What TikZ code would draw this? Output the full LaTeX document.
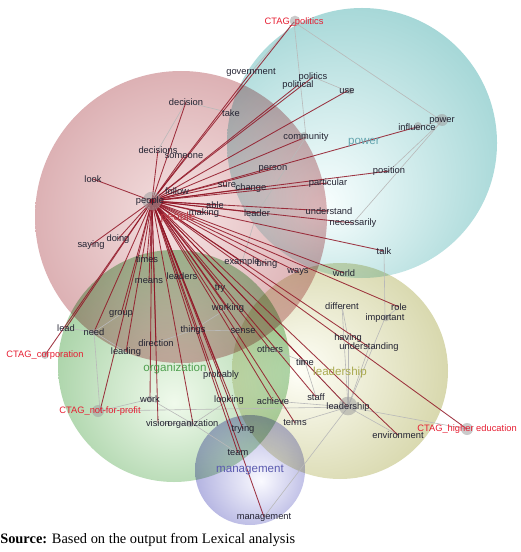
\documentclass[tikz,border=0pt]{standalone}
\usepackage{fontspec}
\setmainfont{Liberation Sans}
\newfontfamily\srcfont{Liberation Serif}
\definecolor{txt}{RGB}{35,35,50}
\definecolor{ctagred}{RGB}{230,30,50}
\definecolor{edgered}{RGB}{145,22,38}
\definecolor{redin}{RGB}{245,226,226}
\definecolor{redout}{RGB}{196,128,134}
\definecolor{cyanin}{RGB}{250,255,255}
\definecolor{cyanout}{RGB}{112,190,190}
\definecolor{grnin}{RGB}{240,250,236}
\definecolor{grnout}{RGB}{110,178,110}
\definecolor{yelin}{RGB}{255,255,248}
\definecolor{yelout}{RGB}{188,188,120}
\definecolor{purin}{RGB}{250,250,255}
\definecolor{purout}{RGB}{120,120,200}
\definecolor{lblpeople}{RGB}{190,60,70}
\definecolor{lblpower}{RGB}{100,165,175}
\definecolor{lblorg}{RGB}{80,160,80}
\definecolor{lbllead}{RGB}{170,170,80}
\definecolor{lblman}{RGB}{90,90,175}
\pgfdeclareradialshading{redball}{\pgfpoint{0bp}{0bp}}{color(0bp)=(redin); color(50bp)=(redout)}
\pgfdeclareradialshading{cyanball}{\pgfpoint{-8bp}{-12bp}}{color(0bp)=(cyanin); color(50bp)=(cyanout)}
\pgfdeclareradialshading{grnball}{\pgfpoint{0bp}{-8bp}}{color(0bp)=(grnin); color(50bp)=(grnout)}
\pgfdeclareradialshading{yelball}{\pgfpoint{-10bp}{0bp}}{color(0bp)=(yelin); color(50bp)=(yelout)}
\pgfdeclareradialshading{purball}{\pgfpoint{5bp}{-5bp}}{color(0bp)=(purin); color(50bp)=(purout)}
\pgfdeclarelayer{circ}
\pgfdeclarelayer{edge}
\pgfsetlayers{circ,edge,main}
\begin{document}
\begin{tikzpicture}[x=0.75pt,y=-0.75pt,
  w/.style={font=\fontsize{7}{8}\selectfont, text=txt, inner sep=0pt},
  ct/.style={w, text=ctagred},
  cl/.style={font=\fontsize{8.7}{10}\selectfont, inner sep=0pt},
  rl/.style={draw=edgered, line width=0.65pt, opacity=0.85},
  gl/.style={draw=gray!55, line width=0.45pt},
  gdot/.style={circle, fill=gray!75, fill opacity=0.55, inner sep=0pt, minimum size=#1}]
\useasboundingbox (0,0) rectangle (520,552);
\begin{pgfonlayer}{circ}
\shade[shading=redball, blend mode=multiply] (181,217) circle[radius=109.5pt];
\shade[shading=cyanball, blend mode=multiply] (362,143) circle[radius=101.25pt];
\shade[shading=grnball, blend mode=multiply] (174,366) circle[radius=87pt];
\shade[shading=yelball, blend mode=multiply] (340,371) circle[radius=81pt];
\shade[shading=purball, blend mode=multiply] (250,470) circle[radius=41.25pt];
\end{pgfonlayer}
% cluster labels
\node[cl, text=lblpeople] (lpeople) at (178,218) {people};
\node[cl, text=lblpower] (lpower) at (364,143) {power};
\node[cl, text=lblorg] (lorg) at (175,368) {organization};
\node[cl, text=lbllead] (llead) at (340,372) {leadership};
\node[cl, text=lblman] (lman) at (250,470) {management};
% hub
\coordinate (hub) at (152,201);
\node[gdot=14pt] (hubdot) at (hub) {};
\node[circle, fill=edgered, inner sep=0pt, minimum size=4pt] (hubcore) at (hub) {};
% dots
\node[gdot=8pt] (d1) at (295,21) {};
\node[gdot=9pt] (d2) at (442,120) {};
\node[gdot=6pt] (d3) at (418,126) {};
\node[gdot=6pt] (d4) at (304,136) {};
\node[gdot=5pt] (d5) at (350,91) {};
\node[gdot=14pt] (d6) at (348,406) {};
\node[gdot=9pt] (d7) at (98,411) {};
\node[gdot=9pt] (d8) at (467,429) {};
\node[gdot=6pt] (d9) at (45,355) {};
\node[gdot=5pt] (d10) at (150,399) {};
\node[gdot=5pt] (d11) at (190,424) {};
\node[gdot=5pt] (d12) at (302,362) {};
\node[gdot=5pt] (d13) at (94,332) {};
\node[gdot=5pt] (d14) at (386,318) {};
% word nodes
\node[ct] (ctagpol) at (294,22) {CTAG\_politics};
\node[w] (government) at (251,72) {government};
\node[w] (politics) at (313,77) {politics};
\node[w] (political) at (298,85) {political};
\node[w] (use) at (347,91) {use};
\node[w] (decision) at (186,102) {decision};
\node[w] (take) at (231,113) {take};
\node[w] (power) at (442,121) {power};
\node[w] (influence) at (417,127) {influence};
\node[w] (community) at (306,137) {community};
\node[w] (decisions) at (158,150) {decisions};
\node[w] (someone) at (184,156) {someone};
\node[w] (person) at (273,169) {person};
\node[w] (position) at (389,171) {position};
\node[w] (look) at (93,179) {look};
\node[w] (particular) at (328,183) {particular};
\node[w] (sure) at (227,185) {sure};
\node[w] (change) at (251,188) {change};
\node[w] (follow) at (177,191) {follow};
\node[w] (peoplew) at (150,201) {people};
\node[w] (able) at (215,205) {able};
\node[w] (making) at (204,213) {making};
\node[w] (leader) at (257,213) {leader};
\node[w] (understand) at (329,211) {understand};
\node[w] (necessarily) at (353,223) {necessarily};
\node[w] (saying) at (91,245) {saying};
\node[w] (doing) at (118,239) {doing};
\node[w] (talk) at (384,251) {talk};
\node[w] (times) at (147,259) {times};
\node[w] (example) at (242,262) {example};
\node[w] (bring) at (267,264) {bring};
\node[w] (ways) at (298,272) {ways};
\node[w] (world) at (344,273) {world};
\node[w] (leaders) at (182,276) {leaders};
\node[w] (means) at (149,281) {means};
\node[w] (try) at (220,288) {try};
\node[w] (different) at (342,306) {different};
\node[w] (working) at (228,308) {working};
\node[w] (role) at (399,307) {role};
\node[w] (group) at (121,314) {group};
\node[w] (important) at (385,318) {important};
\node[w] (lead) at (66,328) {lead};
\node[w] (things) at (193,330) {things};
\node[w] (sense) at (243,331) {sense};
\node[w] (need) at (94,332) {need};
\node[w] (having) at (348,338) {having};
\node[w] (direction) at (156,343) {direction};
\node[w] (understanding) at (369,347) {understanding};
\node[w] (others) at (270,349) {others};
\node[w] (leading) at (126,352) {leading};
\node[ct] (ctagcorp) at (45,355) {CTAG\_corporation};
\node[w] (time) at (305,362) {time};
\node[w] (probably) at (221,375) {probably};
\node[w] (staff) at (316,397) {staff};
\node[w] (work) at (150,399) {work};
\node[w] (looking) at (229,400) {looking};
\node[w] (achieve) at (273,401) {achieve};
\node[w] (leadershipw) at (348,407) {leadership};
\node[ct] (ctagnfp) at (100,411) {CTAG\_not-for-profit};
\node[w] (vision) at (158,423) {vision};
\node[w] (organizationw) at (193,424) {organization};
\node[w] (terms) at (295,423) {terms};
\node[w] (trying) at (243,429) {trying};
\node[ct] (ctaghe) at (467,429) {CTAG\_higher education};
\node[w] (environment) at (398,435) {environment};
\node[w] (team) at (238,453) {team};
\node[w] (managementw) at (264,517) {management};
\node[anchor=west, inner sep=0pt, font=\srcfont\fontsize{10.8}{12}\selectfont] (src) at (0,540) {\textbf{Source:} Based on the output from Lexical analysis};
\begin{pgfonlayer}{edge}
\foreach \a/\b in {ctagpol/community, ctagpol/power, ctagpol/government, politics/use, decision/take, decision/decisions, power/influence, power/necessarily, power/position, community/leader, leader/example, talk/important, different/having, different/leadershipw, having/leadershipw, important/leadershipw, understanding/leadershipw, role/important, time/staff, others/time, time/leadershipw, leadershipw/environment, leadershipw/ctaghe, leadershipw/terms, leadershipw/achieve, leadershipw/managementw, ctagnfp/leadershipw, ctagnfp/work, work/organizationw, organizationw/looking, organizationw/team, vision/organizationw, need/lead, need/group, need/leading, need/ctagnfp, things/direction, things/sense, things/working}
  \draw[gl] (\a.center) -- (\b.center);
\foreach \t in {ctagpol, government, politics, political, use, decision, decisions, someone, community, person, influence, position, particular, sure, change, follow, able, making, leader, understand, necessarily, talk, look, saying, doing, times, example, bring, ways, world, leaders, means, try, working, role, understanding, group, lead, need, ctagcorp, leading, direction, things, sense, others, time, probably, work, looking, achieve, terms, ctagnfp, vision, organizationw, trying, team, managementw, environment, ctaghe, leadershipw, staff}
  \draw[rl] (hub) -- (\t.center);
\end{pgfonlayer}
\end{tikzpicture}
\end{document}
